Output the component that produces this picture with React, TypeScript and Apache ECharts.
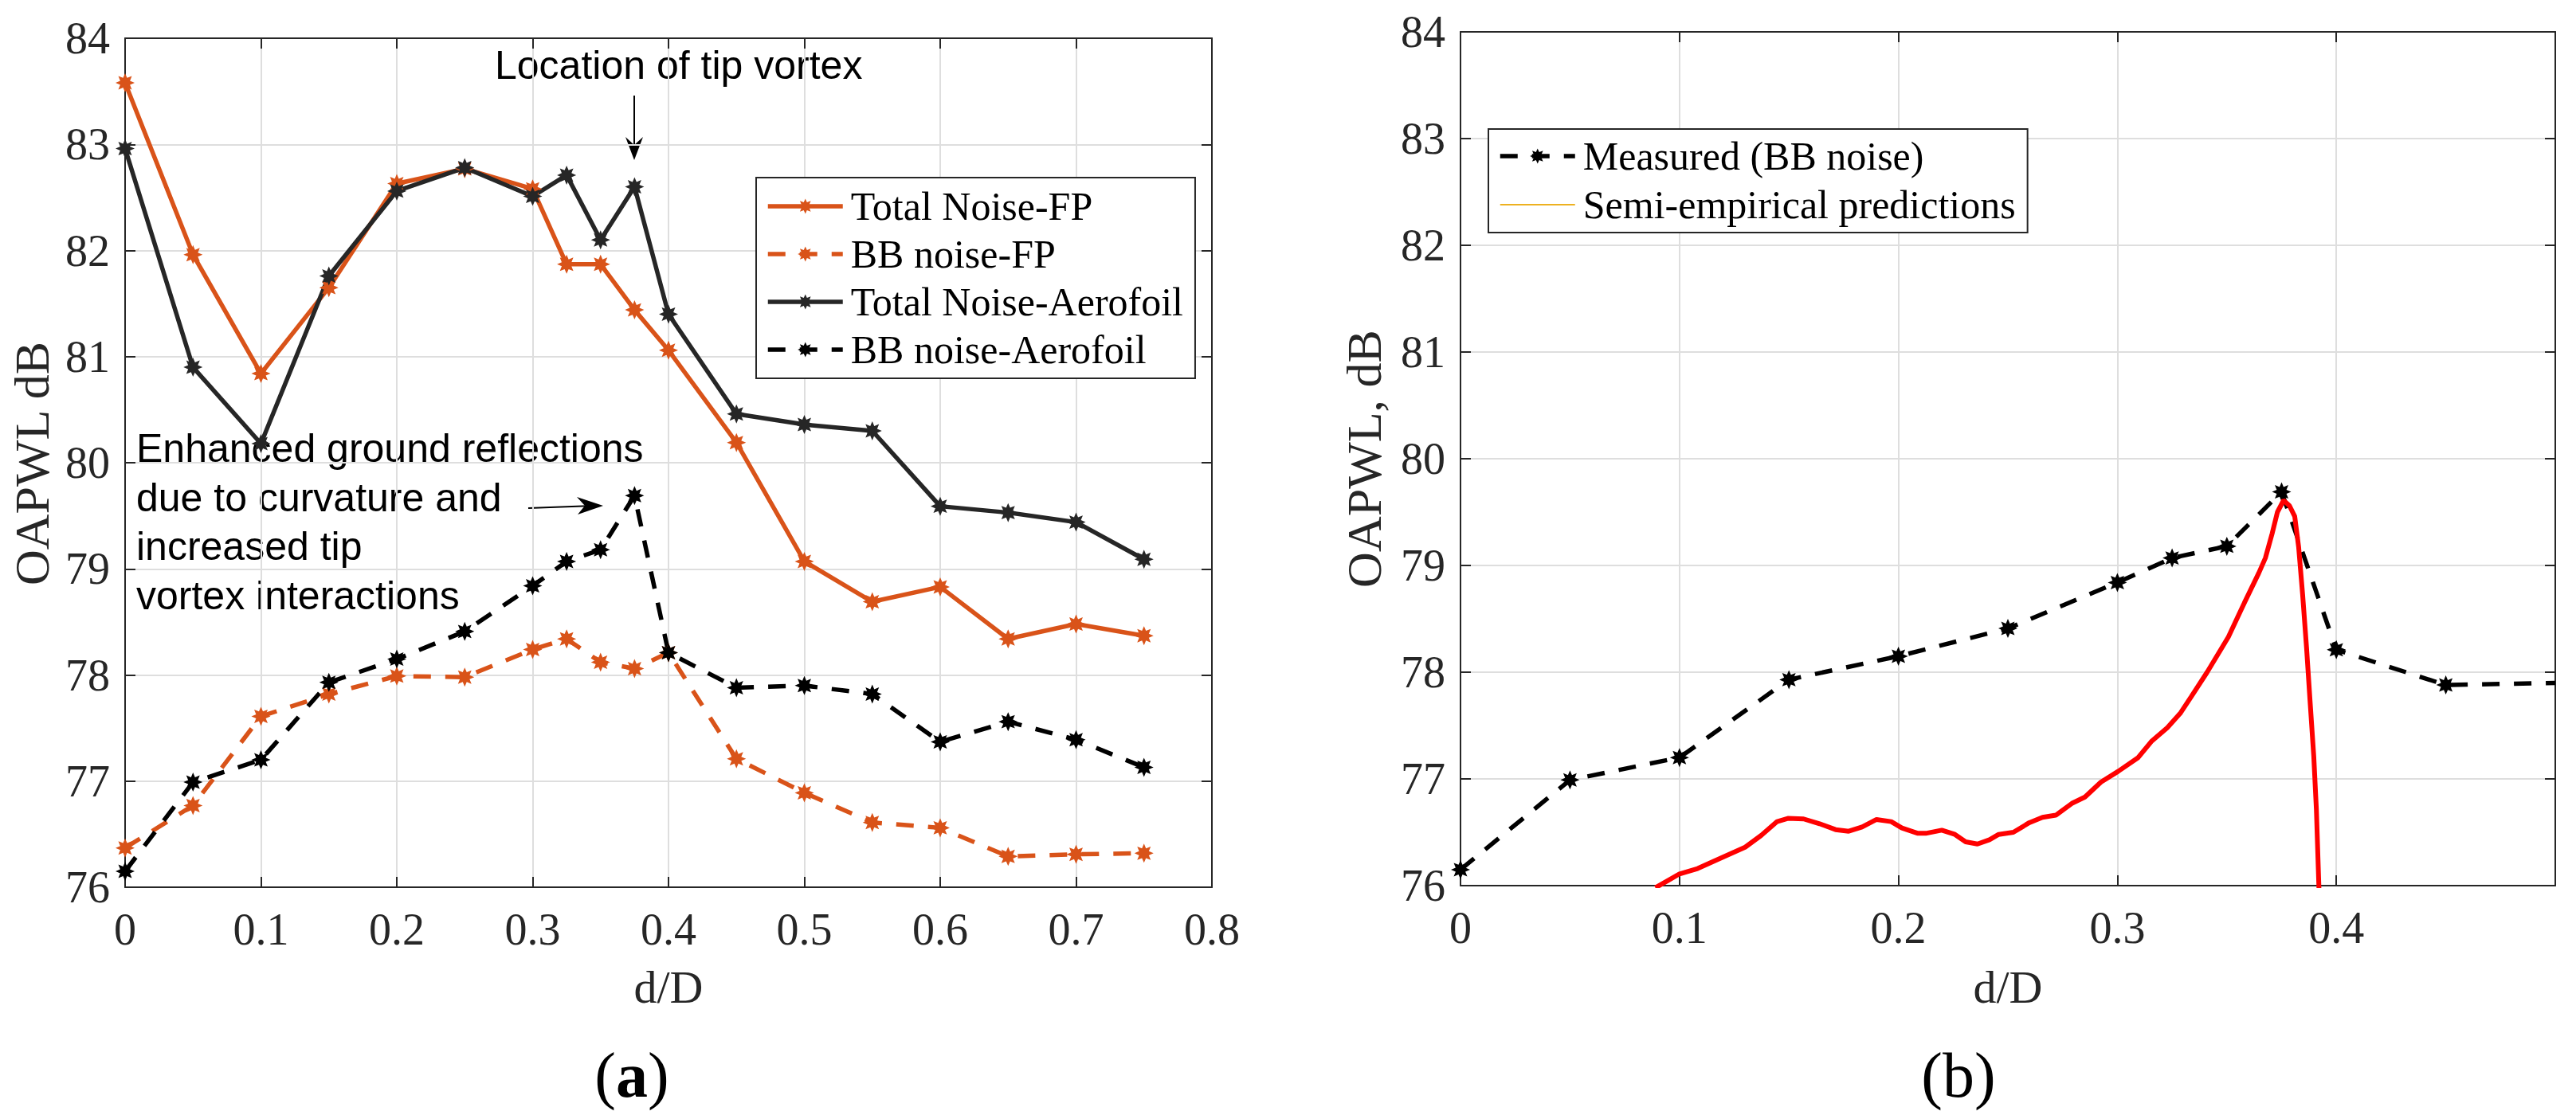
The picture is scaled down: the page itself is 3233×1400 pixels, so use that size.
import React, { useEffect, useRef } from "react";
import * as echarts from "echarts";

// ---------- data ----------
const xLeft = [0, 0.05, 0.1, 0.15, 0.2, 0.25, 0.3, 0.325, 0.35, 0.375, 0.4, 0.45, 0.5, 0.55, 0.6, 0.65, 0.7, 0.75];
const totalNoiseFP = [83.58, 81.96, 80.84, 81.65, 82.63, 82.77, 82.58, 81.87, 81.87, 81.44, 81.06, 80.19, 79.07, 78.69, 78.83, 78.34, 78.48, 78.37];
const bbNoiseFP = [76.37, 76.77, 77.61, 77.82, 77.99, 77.98, 78.24, 78.34, 78.12, 78.06, 78.21, 77.21, 76.89, 76.61, 76.56, 76.29, 76.31, 76.32];
const totalNoiseAero = [82.96, 80.9, 80.18, 81.76, 82.56, 82.78, 82.51, 82.71, 82.1, 82.6, 81.4, 80.46, 80.36, 80.3, 79.59, 79.53, 79.44, 79.09];
const bbNoiseAero = [76.15, 76.99, 77.2, 77.93, 78.15, 78.41, 78.84, 79.07, 79.18, 79.69, 78.21, 77.88, 77.9, 77.82, 77.37, 77.56, 77.39, 77.13];

const xRight = [0, 0.05, 0.1, 0.15, 0.2, 0.25, 0.3, 0.325, 0.35, 0.375, 0.4, 0.45, 0.5];
const measuredBB = [76.15, 76.99, 77.2, 77.93, 78.15, 78.41, 78.84, 79.07, 79.18, 79.69, 78.21, 77.88, 77.9];

const predX = [0.089, 0.0949, 0.1, 0.1083, 0.118, 0.13, 0.1373, 0.1446, 0.1495, 0.1567, 0.164, 0.1713, 0.1773, 0.1834, 0.19, 0.1967, 0.2016, 0.2089, 0.2125, 0.2198, 0.2258, 0.2307, 0.2361, 0.2416, 0.2458, 0.2525, 0.2598, 0.2658, 0.2719, 0.2792, 0.2852, 0.2925, 0.3003, 0.3095, 0.3155, 0.3228, 0.3289, 0.3337, 0.341, 0.3507, 0.358, 0.3646, 0.3676, 0.3707, 0.3731, 0.3759, 0.3786, 0.381, 0.3828, 0.3846, 0.3864, 0.388, 0.3897, 0.3909, 0.3921];
const predY = [75.98, 76.05, 76.11, 76.16, 76.25, 76.36, 76.47, 76.6, 76.63, 76.625, 76.58, 76.525, 76.51, 76.55, 76.62, 76.6, 76.54, 76.49, 76.49, 76.52, 76.48, 76.41, 76.39, 76.43, 76.48, 76.5, 76.59, 76.64, 76.66, 76.77, 76.83, 76.97, 77.07, 77.2, 77.35, 77.48, 77.62, 77.77, 78.0, 78.33, 78.65, 78.93, 79.07, 79.3, 79.5, 79.61, 79.56, 79.46, 79.17, 78.73, 78.23, 77.73, 77.21, 76.71, 75.95];

const leftLegend = ["Total Noise-FP", "BB noise-FP", "Total Noise-Aerofoil", "BB noise-Aerofoil"];
const rightLegend = ["Measured (BB noise)", "Semi-empirical predictions"];

// ---------- styling ----------
const SERIF = "Liberation Serif";
const SANS = "Liberation Sans";
const AX = "#262626";
const GRID = "#dedede";
const ORANGE = "#D95319";
const STAR =
  "path://M200,100 L150.8,121 L170.7,170.7 L121,150.8 L100,200 L79,150.8 L29.3,170.7 L49.2,121 L0,100 L49.2,79 L29.3,29.3 L79,49.2 L100,0 L121,49.2 L170.7,29.3 L150.8,79 Z";
const DASH = [22, 18];

const fmt = (v: number) => String(Math.round(v * 10) / 10);

function xAxes(gridIndex: number, max: number, hideLast: boolean) {
  const base = {
    gridIndex,
    type: "value" as const,
    min: 0,
    max,
    interval: 0.1,
    axisLine: { show: true, onZero: false, lineStyle: { color: AX, width: 2 } },
    axisTick: { show: true, inside: true, length: 13, lineStyle: { color: AX, width: 2 } },
  };
  return [
    {
      ...base,
      position: "bottom",
      axisLabel: {
        fontFamily: SERIF,
        fontSize: 56,
        color: AX,
        margin: 25,
        formatter: (v: number) => (hideLast && Math.abs(v - max) < 1e-6 ? "" : fmt(v)),
      },
      splitLine: { show: true, lineStyle: { color: GRID, width: 2 } },
    },
    {
      ...base,
      position: "top",
      axisLabel: { show: false },
      splitLine: { show: false },
    },
  ];
}

function yAxes(gridIndex: number) {
  const base = {
    gridIndex,
    type: "value" as const,
    min: 76,
    max: 84,
    interval: 1,
    axisLine: { show: true, onZero: false, lineStyle: { color: AX, width: 2 } },
    axisTick: { show: true, inside: true, length: 13, lineStyle: { color: AX, width: 2 } },
  };
  return [
    {
      ...base,
      position: "left",
      axisLabel: { fontFamily: SERIF, fontSize: 56, color: AX, margin: 19 },
      splitLine: { show: true, lineStyle: { color: GRID, width: 2 } },
    },
    {
      ...base,
      position: "right",
      axisLabel: { show: false },
      splitLine: { show: false },
    },
  ];
}

function lineSeries(name: string, xs: number[], ys: number[], color: string, dashed: boolean, xi: number, yi: number) {
  return {
    name,
    type: "line",
    xAxisIndex: xi,
    yAxisIndex: yi,
    data: xs.map((x, i) => [x, ys[i]]),
    symbol: STAR,
    symbolSize: 24,
    showSymbol: true,
    clip: true,
    itemStyle: { color },
    lineStyle: { color, width: 5.5, type: dashed ? DASH : "solid" },
  };
}

export default function App() {
  const ref = useRef<HTMLDivElement>(null);

  useEffect(() => {
    document.body.style.margin = "0";
    if (!ref.current) return;
    const chart = echarts.init(ref.current, undefined, { renderer: "svg" });

    const legendCommon = {
      orient: "vertical",
      itemWidth: 94,
      itemHeight: 24,
      backgroundColor: "#fff",
      borderColor: AX,
      borderWidth: 2,
      borderRadius: 0,
      lineStyle: { width: 5.5 },
      textStyle: { fontFamily: SERIF, fontSize: 50, color: "#000", lineHeight: 50, padding: [0, 0, 0, 5] },
    };

    const measuredData: any[] = xRight.map((x, i) =>
      i === xRight.length - 1 ? { value: [x, measuredBB[i]], symbol: "none" } : [x, measuredBB[i]]
    );

    const option: any = {
      animation: false,
      backgroundColor: "#fff",
      grid: [
        { left: 157, top: 48, width: 1364, height: 1066 },
        { left: 1833, top: 40, width: 1374, height: 1072 },
      ],
      xAxis: [...xAxes(0, 0.8, false), ...xAxes(1, 0.5, true)],
      yAxis: [...yAxes(0), ...yAxes(1)],
      legend: [
        {
          ...legendCommon,
          left: 949,
          top: 223,
          itemGap: 10,
          padding: [11, 15, 11, 12],
          data: leftLegend,
        },
        {
          ...legendCommon,
          left: 1868,
          top: 162,
          itemGap: 11,
          padding: [9, 15, 10, 12],
          data: [
            { name: rightLegend[0] },
            {
              name: rightLegend[1],
              lineStyle: { width: 2 },
              itemStyle: { color: "rgba(0,0,0,0)", opacity: 0, borderWidth: 0 },
            },
          ],
        },
      ],
      series: [
        lineSeries(leftLegend[0], xLeft, totalNoiseFP, ORANGE, false, 0, 0),
        lineSeries(leftLegend[1], xLeft, bbNoiseFP, ORANGE, true, 0, 0),
        lineSeries(leftLegend[2], xLeft, totalNoiseAero, "#262626", false, 0, 0),
        lineSeries(leftLegend[3], xLeft, bbNoiseAero, "#000000", true, 0, 0),
        {
          ...lineSeries(rightLegend[0], xRight, measuredBB, "#000000", true, 2, 2),
          data: measuredData,
        },
        {
          name: rightLegend[1],
          type: "line",
          xAxisIndex: 2,
          yAxisIndex: 2,
          data: [],
          symbol: "none",
          itemStyle: { color: "#EDB120" },
          lineStyle: { color: "#EDB120", width: 2 },
        },
        {
          name: "Semi-empirical curve",
          type: "line",
          xAxisIndex: 2,
          yAxisIndex: 2,
          data: predX.map((x, i) => [x, predY[i]]),
          symbol: "none",
          clip: true,
          z: 5,
          lineStyle: { color: "#FF0000", width: 6 },
        },
      ],
      graphic: [
        // axis titles
        {
          type: "text",
          x: 40,
          y: 582,
          rotation: Math.PI / 2,
          style: { text: "OAPWL dB", font: `62px "${SERIF}"`, fill: AX, align: "center", verticalAlign: "middle" },
        },
        {
          type: "text",
          x: 1712,
          y: 576,
          rotation: Math.PI / 2,
          style: { text: "OAPWL, dB", font: `62px "${SERIF}"`, fill: AX, align: "center", verticalAlign: "middle" },
        },
        {
          type: "text",
          x: 839,
          y: 1239,
          style: { text: "d/D", font: `58px "${SERIF}"`, fill: AX, align: "center", verticalAlign: "middle" },
        },
        {
          type: "text",
          x: 2520,
          y: 1239,
          style: { text: "d/D", font: `58px "${SERIF}"`, fill: AX, align: "center", verticalAlign: "middle" },
        },
        // panel labels
        {
          type: "text",
          x: 793,
          y: 1350,
          style: {
            text: "{p|(}{b|a}{p|)}",
            align: "center",
            verticalAlign: "middle",
            fill: "#000",
            rich: {
              p: { fontFamily: SERIF, fontSize: 80, fill: "#000" },
              b: { fontFamily: SERIF, fontSize: 80, fontWeight: "bold", fill: "#000" },
            },
          },
        },
        {
          type: "text",
          x: 2458,
          y: 1350,
          style: { text: "(b)", font: `80px "${SERIF}"`, fill: "#000", align: "center", verticalAlign: "middle" },
        },
        // annotations
        {
          type: "text",
          x: 621,
          y: 82,
          style: { text: "Location of tip vortex", font: `50px "${SANS}"`, fill: "#000", align: "left", verticalAlign: "middle" },
        },
        { type: "line", shape: { x1: 796, y1: 120, x2: 796, y2: 190 }, style: { stroke: "#000", lineWidth: 2 } },
        {
          type: "polygon",
          shape: { points: [[796, 201], [785, 172], [796, 182], [807, 172]] },
          style: { fill: "#000" },
        },
        {
          type: "text",
          x: 171,
          y: 563,
          style: { text: "Enhanced ground reflections", font: `50px "${SANS}"`, fill: "#000", align: "left", verticalAlign: "middle" },
        },
        {
          type: "text",
          x: 171,
          y: 625,
          style: { text: "due to curvature and", font: `50px "${SANS}"`, fill: "#000", align: "left", verticalAlign: "middle" },
        },
        {
          type: "text",
          x: 171,
          y: 686,
          style: { text: "increased tip", font: `50px "${SANS}"`, fill: "#000", align: "left", verticalAlign: "middle" },
        },
        {
          type: "text",
          x: 171,
          y: 748,
          style: { text: "vortex interactions", font: `50px "${SANS}"`, fill: "#000", align: "left", verticalAlign: "middle" },
        },
        { type: "line", shape: { x1: 663, y1: 638, x2: 745, y2: 635 }, style: { stroke: "#000", lineWidth: 2 } },
        {
          type: "polygon",
          shape: { points: [[757, 635], [724, 624], [734, 635], [725, 646]] },
          style: { fill: "#000" },
        },
      ],
    };

    chart.setOption(option);
    return () => chart.dispose();
  }, []);

  return <div ref={ref} style={{ width: 3233, height: 1400 }} />;
}
